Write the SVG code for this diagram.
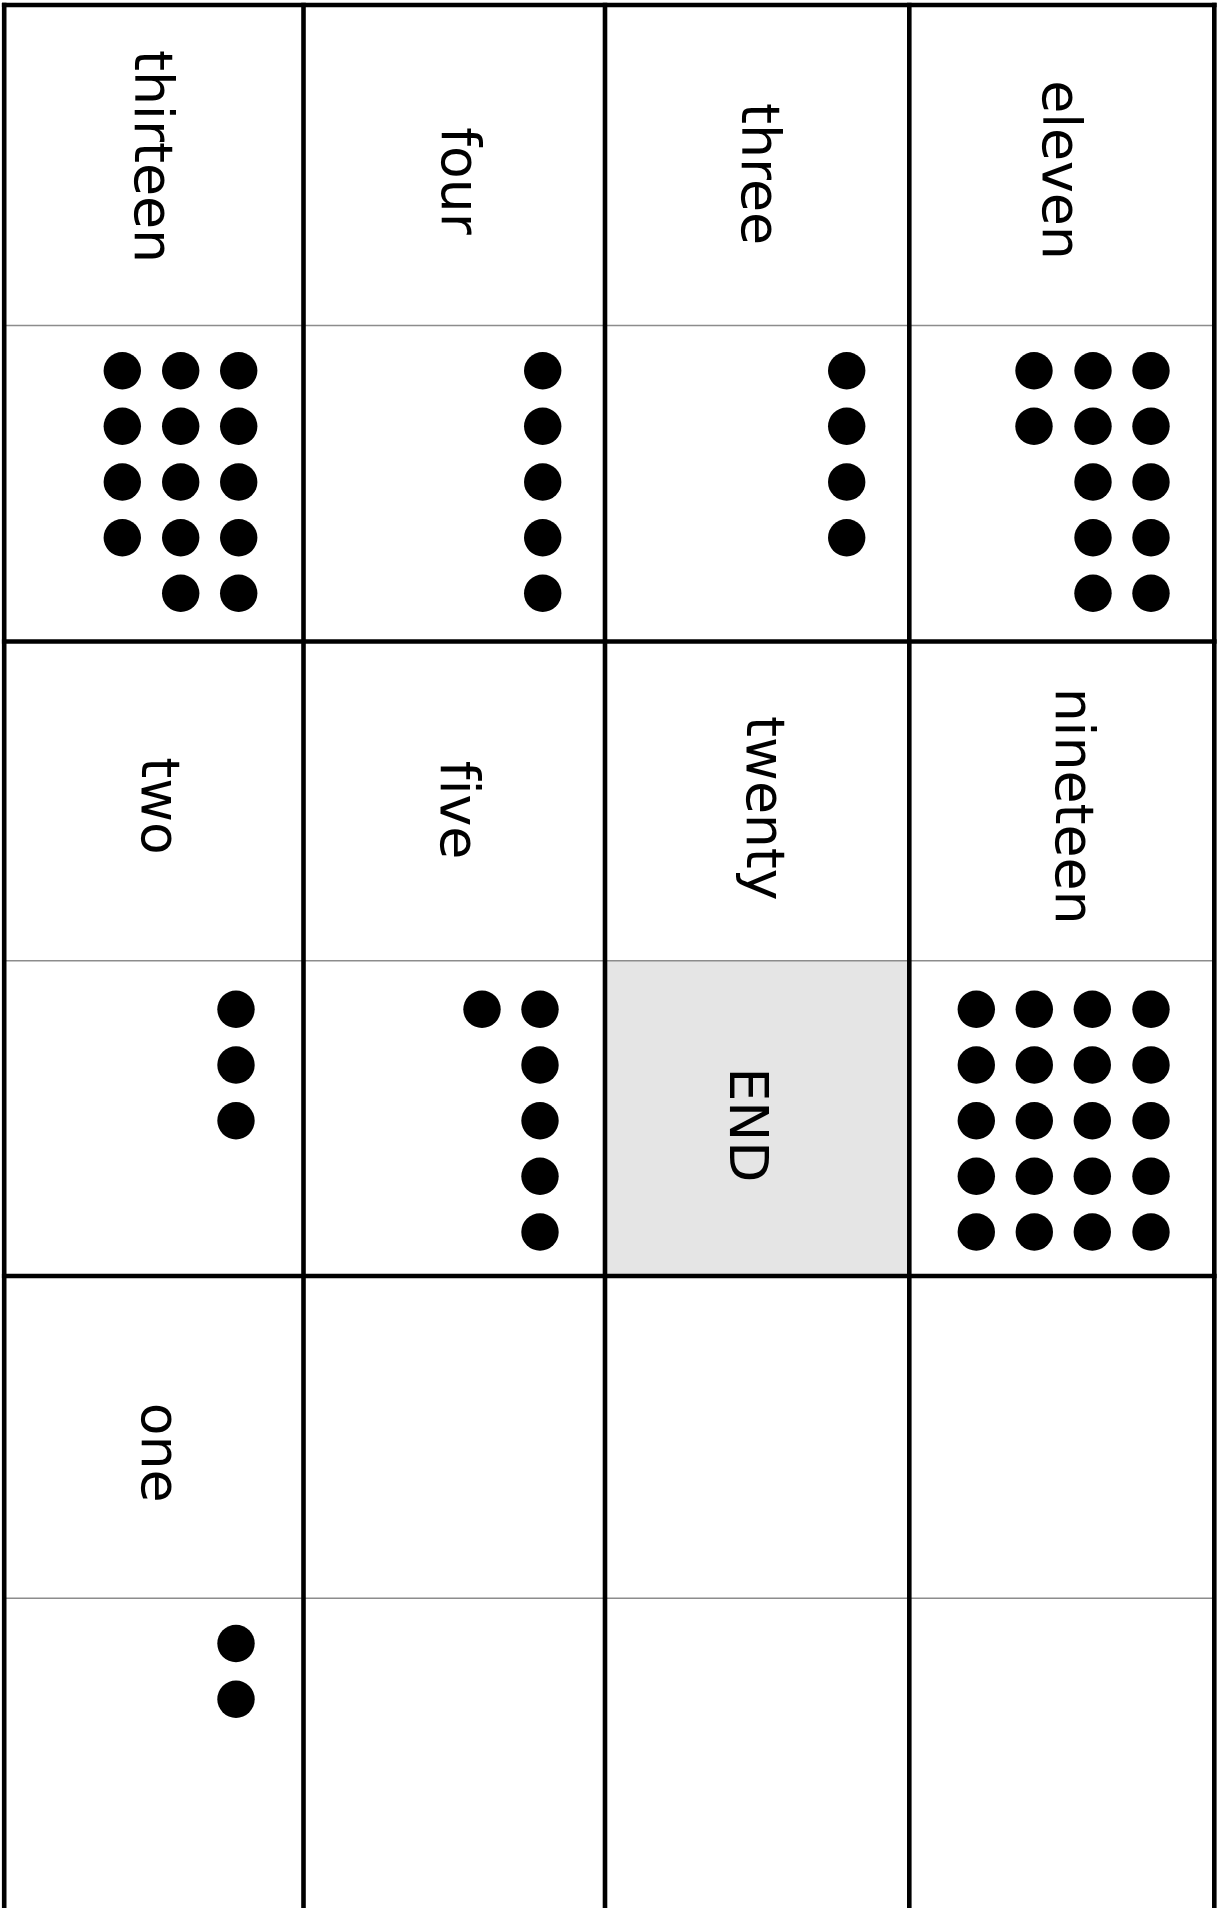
<svg xmlns="http://www.w3.org/2000/svg" width="1223" height="1908" viewBox="0 0 1223 1908">
<style>
.lbl{font-family:"DejaVu Sans","Liberation Sans",sans-serif;font-size:53.6px;fill:#000;text-anchor:middle;font-variant-ligatures:none;font-feature-settings:"liga" 0}
.dot{fill:#000}
.grid{stroke:#000;stroke-width:4.6;fill:none}
.sub{stroke:#8c8c8c;stroke-width:1.6;fill:none}
</style>
<defs>
<circle id="d" r="18.7" class="dot"/>
</defs>
<rect x="0" y="0" width="1223" height="1908" fill="#fff"/>
<g id="end-fill">
<rect x="605" y="960.7" width="304.3" height="315.3" fill="#e5e5e5"/>
</g>
<g id="grid-lines">
<line class="sub" x1="4" y1="325.5" x2="1214.3" y2="325.5"/>
<line class="sub" x1="4" y1="960.7" x2="1214.3" y2="960.7"/>
<line class="sub" x1="4" y1="1598.3" x2="1214.3" y2="1598.3"/>
<line class="grid" x1="1.9" y1="5" x2="1216.6" y2="5"/>
<line class="grid" x1="1.9" y1="641.5" x2="1216.6" y2="641.5"/>
<line class="grid" x1="1.9" y1="1276" x2="1216.6" y2="1276"/>
<line class="grid" x1="4.2" y1="2.7" x2="4.2" y2="1910"/>
<line class="grid" x1="303.5" y1="2.7" x2="303.5" y2="1910"/>
<line class="grid" x1="605" y1="2.7" x2="605" y2="1910"/>
<line class="grid" x1="909.3" y1="2.7" x2="909.3" y2="1910"/>
<line class="grid" x1="1214.3" y1="2.7" x2="1214.3" y2="1910"/>
</g>
<g id="cell-thirteen">
<text class="lbl" transform="translate(135,156.5) rotate(90)">thirteen</text>
<use href="#d" x="122.3" y="370.7"/><use href="#d" x="180.7" y="370.7"/><use href="#d" x="238.7" y="370.7"/>
<use href="#d" x="122.3" y="426.3"/><use href="#d" x="180.7" y="426.3"/><use href="#d" x="238.7" y="426.3"/>
<use href="#d" x="122.3" y="482"/><use href="#d" x="180.7" y="482"/><use href="#d" x="238.7" y="482"/>
<use href="#d" x="122.3" y="537.7"/><use href="#d" x="180.7" y="537.7"/><use href="#d" x="238.7" y="537.7"/>
<use href="#d" x="180.7" y="593.3"/><use href="#d" x="238.7" y="593.3"/>
</g>
<g id="cell-four">
<text class="lbl" transform="translate(441.7,181) rotate(90)">four</text>
<use href="#d" x="542.7" y="370.7"/><use href="#d" x="542.7" y="426.3"/><use href="#d" x="542.7" y="482"/><use href="#d" x="542.7" y="537.7"/><use href="#d" x="542.7" y="593.3"/>
</g>
<g id="cell-three">
<text class="lbl" transform="translate(741.7,174) rotate(90)">three</text>
<use href="#d" x="846.7" y="370.7"/><use href="#d" x="846.7" y="426.3"/><use href="#d" x="846.7" y="482"/><use href="#d" x="846.7" y="537.7"/>
</g>
<g id="cell-eleven">
<text class="lbl" transform="translate(1043,170) rotate(90)">eleven</text>
<use href="#d" x="1034" y="370.7"/><use href="#d" x="1093" y="370.7"/><use href="#d" x="1151" y="370.7"/>
<use href="#d" x="1034" y="426.3"/><use href="#d" x="1093" y="426.3"/><use href="#d" x="1151" y="426.3"/>
<use href="#d" x="1093" y="482"/><use href="#d" x="1151" y="482"/>
<use href="#d" x="1093" y="537.7"/><use href="#d" x="1151" y="537.7"/>
<use href="#d" x="1093" y="593.3"/><use href="#d" x="1151" y="593.3"/>
</g>
<g id="cell-two">
<text class="lbl" transform="translate(141.7,806) rotate(90)">two</text>
<use href="#d" x="236" y="1009.3"/><use href="#d" x="236" y="1065"/><use href="#d" x="236" y="1120.7"/>
</g>
<g id="cell-five">
<text class="lbl" transform="translate(440.7,810) rotate(90)">five</text>
<use href="#d" x="482" y="1009.3"/>
<use href="#d" x="540" y="1009.3"/><use href="#d" x="540" y="1065"/><use href="#d" x="540" y="1120.7"/><use href="#d" x="540" y="1176.3"/><use href="#d" x="540" y="1232"/>
</g>
<g id="cell-twenty">
<text class="lbl" transform="translate(746.7,808.3) rotate(90)">twenty</text>
</g>
<g id="cell-end">
<text class="lbl" transform="translate(730,1125) rotate(90)">END</text>
</g>
<g id="cell-nineteen">
<text class="lbl" transform="translate(1056.3,806) rotate(90)">nineteen</text>
<use href="#d" x="976.3" y="1009.3"/><use href="#d" x="1034.3" y="1009.3"/><use href="#d" x="1092.3" y="1009.3"/><use href="#d" x="1151" y="1009.3"/>
<use href="#d" x="976.3" y="1065"/><use href="#d" x="1034.3" y="1065"/><use href="#d" x="1092.3" y="1065"/><use href="#d" x="1151" y="1065"/>
<use href="#d" x="976.3" y="1120.7"/><use href="#d" x="1034.3" y="1120.7"/><use href="#d" x="1092.3" y="1120.7"/><use href="#d" x="1151" y="1120.7"/>
<use href="#d" x="976.3" y="1176.3"/><use href="#d" x="1034.3" y="1176.3"/><use href="#d" x="1092.3" y="1176.3"/><use href="#d" x="1151" y="1176.3"/>
<use href="#d" x="976.3" y="1232"/><use href="#d" x="1034.3" y="1232"/><use href="#d" x="1092.3" y="1232"/><use href="#d" x="1151" y="1232"/>
</g>
<g id="cell-one">
<text class="lbl" transform="translate(141.7,1452.5) rotate(90)">one</text>
<use href="#d" x="236" y="1643.5"/><use href="#d" x="236" y="1699.2"/>
</g>
</svg>
